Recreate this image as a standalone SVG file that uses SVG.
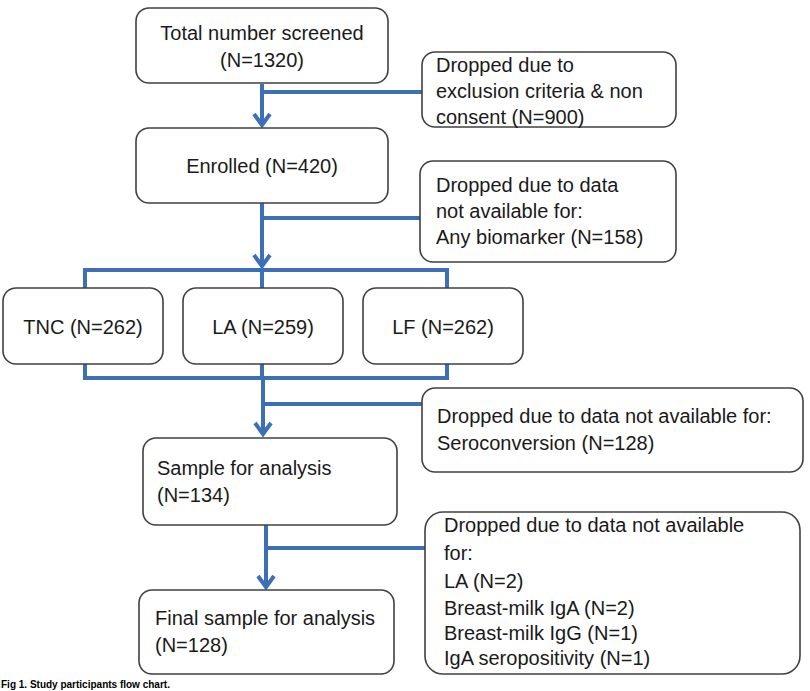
<svg xmlns="http://www.w3.org/2000/svg" width="810" height="691" viewBox="0 0 810 691">
<style>
.box{fill:#fff;stroke:#404040;stroke-width:1.6}
.t{font-family:"Liberation Sans",Arial,sans-serif;font-size:20px;fill:#1a1a1a}
.c{text-anchor:middle}
.ln{fill:none;stroke:#3c6fb6;stroke-width:4;stroke-linejoin:miter}
.cap{font-family:"Liberation Sans",Arial,sans-serif;font-size:10px;font-weight:bold;fill:#000}
</style>
<rect width="810" height="691" fill="#fff"/>
<g id="connectors">
<path class="ln" d="M262,84 V125"/>
<path d="M254,114 L262,125 L270,114" class="ln"/>
<path class="ln" d="M262,92 H422"/>
<path class="ln" d="M262,203 V266"/>
<path d="M254,255 L262,266 L270,255" class="ln"/>
<path class="ln" d="M262,218 H420"/>
<path class="ln" d="M85,288 V270 H447 V288 M262,270 V288"/>
<path class="ln" d="M85,364 V378 H447 V364 M262,364 V378"/>
<path class="ln" d="M263,378 V434"/>
<path d="M255,423 L263,434 L271,423" class="ln"/>
<path class="ln" d="M263,404 H422"/>
<path class="ln" d="M266,525 V587"/>
<path d="M258,576 L266,587 L274,576" class="ln"/>
<path class="ln" d="M266,548 H425"/>
</g>
<g id="screened">
<rect class="box" x="136" y="8" width="252" height="75" rx="13"/>
<text class="t c" x="262" y="40">Total number screened</text>
<text class="t c" x="262" y="67">(N=1320)</text>
</g>
<g id="excluded">
<rect class="box" x="422" y="52" width="254" height="75" rx="13"/>
<text class="t" x="436" y="72">Dropped due to</text>
<text class="t" x="436" y="98">exclusion criteria &amp; non</text>
<text class="t" x="436" y="124">consent (N=900)</text>
</g>
<g id="enrolled">
<rect class="box" x="136" y="128" width="252" height="75" rx="13"/>
<text class="t c" x="262" y="173">Enrolled (N=420)</text>
</g>
<g id="dropped-biomarker">
<rect class="box" x="420" y="161" width="256" height="101" rx="13"/>
<text class="t" x="436" y="192">Dropped due to data</text>
<text class="t" x="436" y="218">not available for:</text>
<text class="t" x="436" y="244">Any biomarker (N=158)</text>
</g>
<g id="tnc">
<rect class="box" x="3" y="288" width="160" height="76" rx="13"/>
<text class="t c" x="83" y="334">TNC (N=262)</text>
</g>
<g id="la">
<rect class="box" x="183" y="288" width="160" height="76" rx="13"/>
<text class="t c" x="263" y="334">LA (N=259)</text>
</g>
<g id="lf">
<rect class="box" x="363" y="288" width="160" height="76" rx="13"/>
<text class="t c" x="443" y="334">LF (N=262)</text>
</g>
<g id="dropped-seroconversion">
<rect class="box" x="422" y="388" width="381" height="84" rx="13"/>
<text class="t" x="437" y="423">Dropped due to data not available for:</text>
<text class="t" x="437" y="450">Seroconversion  (N=128)</text>
</g>
<g id="sample">
<rect class="box" x="143" y="438" width="254" height="87" rx="13"/>
<text class="t" x="157" y="475">Sample for analysis</text>
<text class="t" x="157" y="502">(N=134)</text>
</g>
<g id="dropped-final">
<rect class="box" x="425" y="512" width="375" height="162" rx="18"/>
<text class="t" x="444" y="532">Dropped due to data not available</text>
<text class="t" x="444" y="560">for:</text>
<text class="t" x="444" y="588">LA (N=2)</text>
<text class="t" x="444" y="615">Breast-milk  IgA (N=2)</text>
<text class="t" x="444" y="640">Breast-milk  IgG (N=1)</text>
<text class="t" x="444" y="665">IgA seropositivity  (N=1)</text>
</g>
<g id="final">
<rect class="box" x="139" y="590" width="255" height="84" rx="13"/>
<text class="t" x="155" y="625">Final sample for analysis</text>
<text class="t" x="155" y="652">(N=128)</text>
</g>
<text class="cap" x="1" y="688">Fig 1.  Study participants flow chart.</text>
</svg>
